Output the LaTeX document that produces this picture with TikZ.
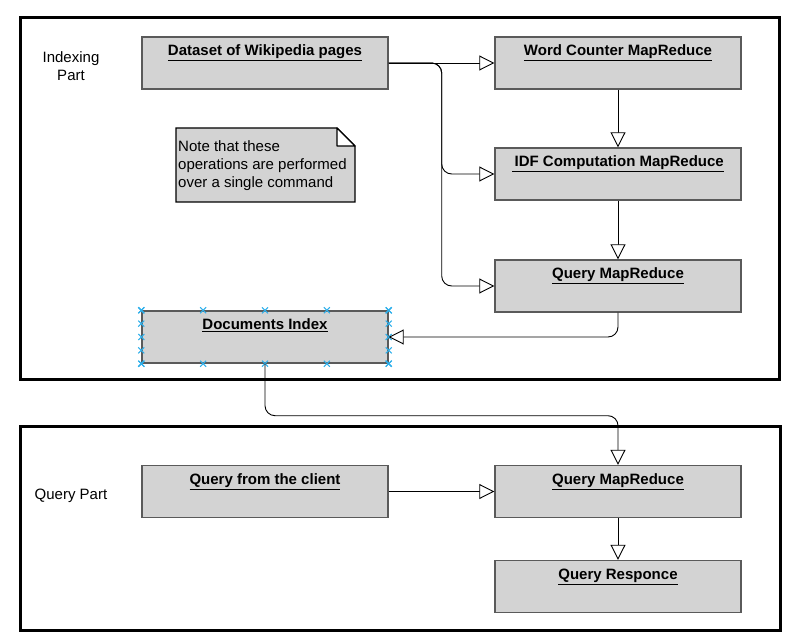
\documentclass[tikz,border=0pt]{standalone}
\usepackage{fontspec}
\setmainfont{Liberation Sans}
\usetikzlibrary{calc,arrows.meta}
\definecolor{boxgray}{RGB}{211,211,211}
\definecolor{edgegray}{RGB}{90,90,90}
\definecolor{markblue}{RGB}{45,175,235}

\begin{document}
\begin{tikzpicture}[x=1pt, y=-1pt,
    every node/.style={font=\fontsize{15}{18}\selectfont},
    procbox/.style={draw=edgegray, line width=1.4pt, fill=boxgray,
      minimum width=246pt, inner xsep=2pt, inner ysep=3pt,
      text height=16pt, text depth=30pt, font=\fontsize{15}{18}\selectfont\bfseries},
    flow/.style={line width=0.9pt, rounded corners=10pt,
      -{Triangle[open, length=15pt, width=15pt, fill=white]}},
    frame/.style={line width=3pt}]
  \useasboundingbox (0,0) rectangle (803,644);
  % the two parts
  \draw[frame] (20,17.5) rectangle (779.5,379);
  \draw[frame] (20,426) rectangle (780.5,630);
  \node[align=center] (idxlbl) at (71,66) {Indexing\\Part};
  \node (qrylbl) at (71,496) {Query Part};
  % indexing part
  \node[procbox] (ds) at (265,63) {\underline{Dataset of Wikipedia pages}};
  \node[procbox] (wc) at (618,63) {\underline{Word Counter MapReduce}};
  \node[procbox] (idf) at (618,174) {\underline{\,IDF Computation MapReduce}};
  \node[procbox] (qmr) at (618,286) {\underline{Query MapReduce}};
  \node[procbox] (di) at (265,337) {\underline{Documents Index}};
  % note with folded corner
  \draw[line width=1.4pt, fill=boxgray] (176,128) -- (337,128) -- (355,146) -- (355,202) -- (176,202) -- cycle;
  \draw[line width=1.2pt, fill=white, line join=round] (337,128) -- (337,146) -- (355,146) -- cycle;
  \node[anchor=north west, align=left, inner sep=0pt] (note) at (178,140.5)
    {Note that these\\operations are performed\\over a single command};
  % selection marks
  \foreach \fx in {0,0.25,0.5,0.75,1} {
    \foreach \m in {($(di.north west)!\fx!(di.north east)$),
                    ($(di.south west)!\fx!(di.south east)$),
                    ($(di.north west)!\fx!(di.south west)$),
                    ($(di.north east)!\fx!(di.south east)$)} {
      \draw[markblue, line width=1.1pt] \m ++(-3,-3) -- ++(6,6) \m ++(-3,3) -- ++(6,-6);
    }
  }
  % query part
  \node[procbox] (qcl) at (265,491.5) {\underline{Query from the client}};
  \node[procbox] (qmr2) at (618,491.5) {\underline{Query MapReduce}};
  \node[procbox] (qres) at (618,586.5) {\underline{Query Responce}};
  % connectors
  \coordinate (fork) at ($(ds.east)+(53,0)$);
  \draw[flow] (ds.east) -- (wc.west);
  \draw[flow] (ds.east) -- (fork) |- (idf.west);
  \draw[flow] (ds.east) -- (fork) |- (qmr.west);
  \draw[flow] (wc.south) -- (idf.north);
  \draw[flow] (idf.south) -- (qmr.north);
  \draw[flow] (qmr.south) |- (di.east);
  \draw[flow] (di.south) -- ++(0,52) -| (qmr2.north);
  \draw[flow] (qcl.east) -- (qmr2.west);
  \draw[flow] (qmr2.south) -- (qres.north);
\end{tikzpicture}
\end{document}
